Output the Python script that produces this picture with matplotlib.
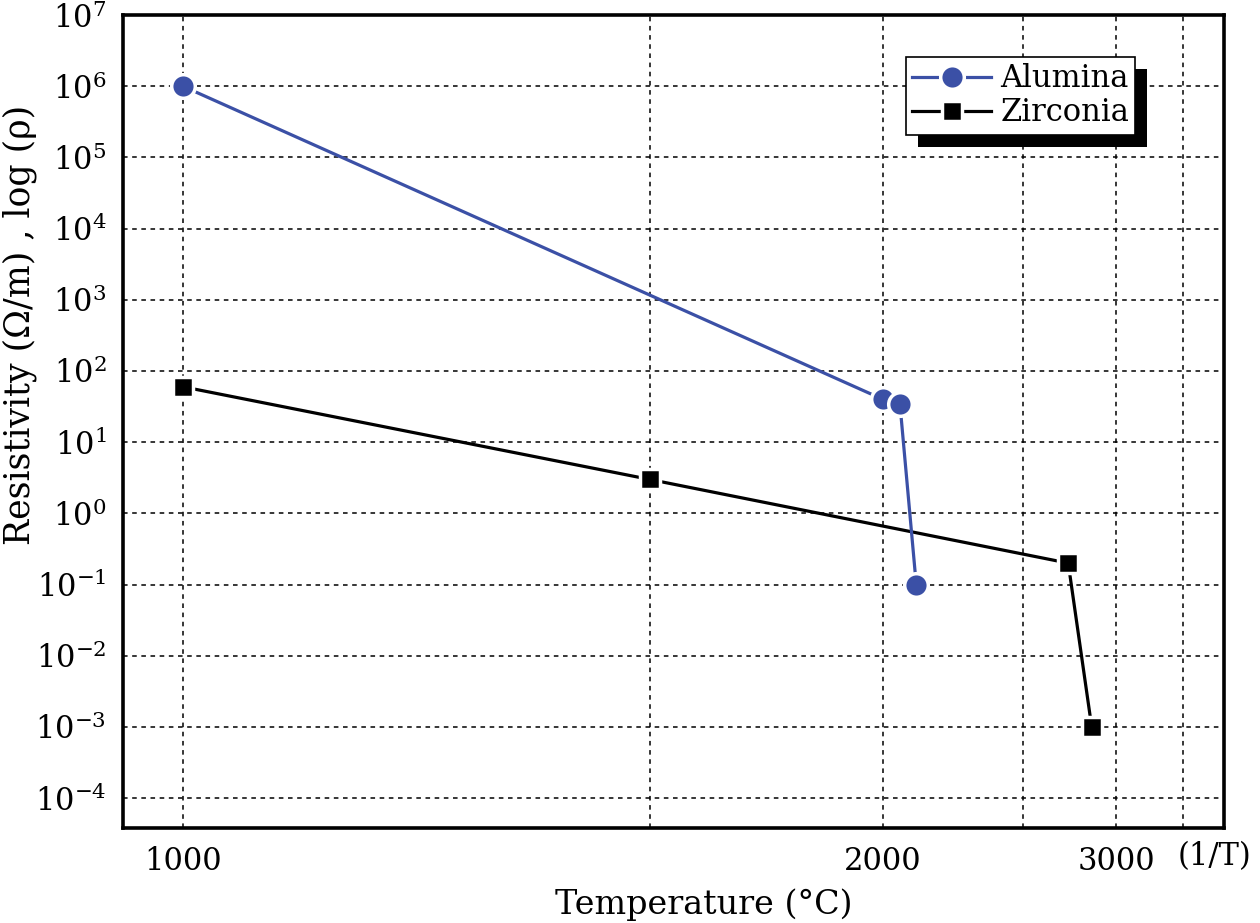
import matplotlib
matplotlib.use("Agg")
import matplotlib.pyplot as plt
import matplotlib.transforms as mtransforms
from matplotlib.patches import Rectangle
import numpy as np

plt.rcParams['font.family'] = ['DejaVu Serif']
plt.rcParams['mathtext.fontset'] = 'dejavuserif'

alumina_T = [1000, 2000, 2050, 2100]
alumina_rho = [1e6, 40, 34, 0.1]
zirconia_T = [1000, 1500, 2720, 2850]
zirconia_rho = [60, 3, 0.2, 1e-3]
xticks = [1000, 2000, 3000]
xgrid = [1000, 1500, 2000, 2500, 3000, 3500]
yticks = [10.0**k for k in range(-4, 8)]

fig = plt.figure(figsize=(12.6, 9.23), dpi=100)
ax = fig.add_axes([0.0976, 0.1029, 0.9714 - 0.0976, 0.9837 - 0.1029])

ax.set_xscale('function', functions=(lambda T: -1.0 / T, lambda u: -1.0 / u))
ax.set_yscale('log')
ax.set_xlim(959, 3900)
ax.set_ylim(10 ** -4.42, 1e7)

ax.plot(alumina_T, alumina_rho, color='#3b50a6', lw=2.3, marker='o', ms=17,
        mfc='#3b50a6', mec='white', mew=2.5, label='Alumina', zorder=4)
ax.plot(zirconia_T, zirconia_rho, color='black', lw=2.3, marker='s', ms=15,
        mfc='black', mec='white', mew=2.5, label='Zirconia', zorder=3)

ax.set_xticks(xgrid)
ax.set_xticklabels([str(t) if t in xticks else '' for t in xgrid])
ax.xaxis.set_minor_locator(matplotlib.ticker.NullLocator())
ax.set_yticks(yticks)
ax.yaxis.set_minor_locator(matplotlib.ticker.NullLocator())
ax.tick_params(length=0, labelsize=22)
ax.tick_params(axis='x', pad=13)
ax.tick_params(axis='y', pad=12)
ax.grid(True, which='major', color='black', ls=(0, (3, 3)), lw=1.1)

for s in ax.spines.values():
    s.set_linewidth(2.6)

fig.text(704 / 1260, 1 - 905 / 923, 'Temperature (°C)', fontsize=24, ha='center', va='center')
fig.text(20 / 1260, 1 - 325 / 923, 'Resistivity (Ω/m) , log (ρ)', fontsize=25,
         ha='center', va='center', rotation=90)
fig.text(1214 / 1260, 1 - 857 / 923, '(1/T)', fontsize=22, ha='center', va='center')

leg = ax.legend(loc='upper left', bbox_to_anchor=(0.711, 0.948), fontsize=22,
                frameon=True, fancybox=False, shadow=False,
                borderpad=0.2, handlelength=2.6, handletextpad=0.3, labelspacing=0.1,
                borderaxespad=0)
leg.get_frame().set_edgecolor('black')
leg.get_frame().set_linewidth(1.2)
leg.get_frame().set_alpha(1)
leg.set_zorder(6)

fig.canvas.draw()
bb = leg.get_window_extent()
shadow = Rectangle((bb.x0 + 12, bb.y0 - 12), bb.width, bb.height,
                   transform=mtransforms.IdentityTransform(), facecolor='black',
                   edgecolor='none', zorder=5.5)
ax.add_artist(shadow)

fig.savefig('out.png', dpi=100)
